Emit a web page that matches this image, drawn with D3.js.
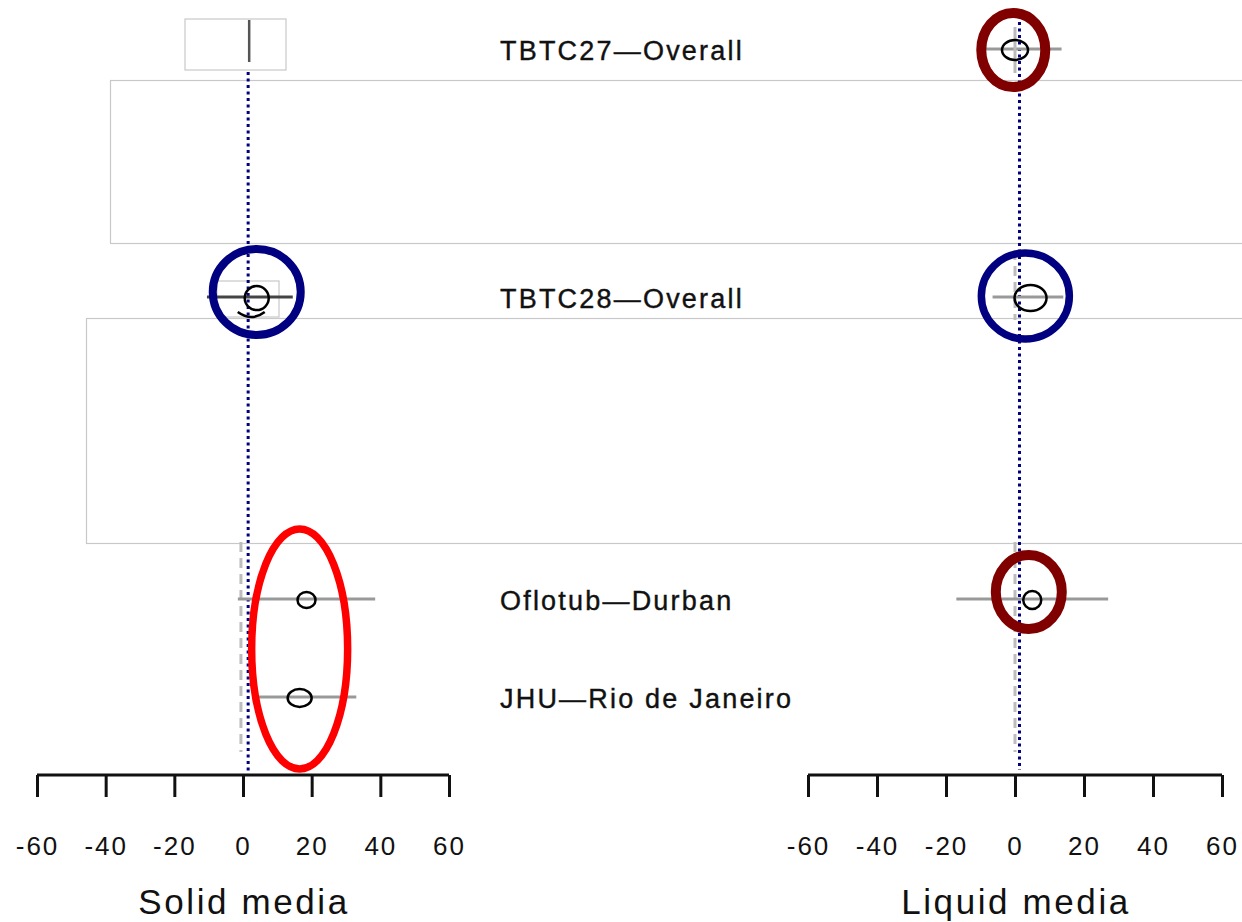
<!DOCTYPE html>
<html>
<head>
<meta charset="utf-8">
<script src="https://cdn.jsdelivr.net/npm/d3@7"></script>
<style>
  html, body { margin: 0; padding: 0; background: #fff; }
  svg { display: block; }
  text { font-family: "Liberation Sans", Arial, sans-serif; fill: #111; }
</style>
</head>
<body>
<svg id="chart" width="1242" height="922"></svg>
<script>
// studies, top to bottom
const studies = ['TBTC27\u2014Overall', 'TBTC28\u2014Overall', 'Oflotub\u2014Durban', 'JHU\u2014Rio de Janeiro'];
// row position (in row units, 0 = top row)
const rowPos = [0, 2.53, 5.61, 6.61];

// solid media: point estimate and confidence interval (null = not shown)
const solidEst = [1.8, 4, 18.5, 16.5];
const solidLo = [null, -10.5, -1.5, 4];
const solidHi = [null, 14.5, 38.5, 33];

// liquid media
const liquidEst = [0, 4.5, 5, null];
const liquidLo = [-8.5, -6.5, -17, null];
const liquidHi = [13.5, 14, 27, null];

// pooled estimates (dotted lines)
const solidPooled = 1.5;
const liquidPooled = 1.3;

const ticks = [-60, -40, -20, 0, 20, 40, 60];
const tickLabels = ['-60', '-40', '-20', '0', '20', '40', '60'];

const svg = d3.select('#chart');

const xSolid = d3.scaleLinear().domain([-60, 60]).range([37, 449]);
const xLiquid = d3.scaleLinear().domain([-60, 60]).range([808, 1222]);
const y = d3.scaleLinear().domain([0, 6.61]).range([50, 698]);

const axisY = 775;

// grey frame artefacts left behind in the figure
svg.append('rect').attr('x', 185).attr('y', 19).attr('width', 101).attr('height', 51)
  .attr('fill', 'none').attr('stroke', '#c8c8c8').attr('stroke-width', 1.2);
svg.append('rect').attr('x', 110.5).attr('y', 80.5).attr('width', 1200).attr('height', 163)
  .attr('fill', 'none').attr('stroke', '#c8c8c8').attr('stroke-width', 1.2);
svg.append('rect').attr('x', 86.5).attr('y', 318.5).attr('width', 1200).attr('height', 225)
  .attr('fill', 'none').attr('stroke', '#c8c8c8').attr('stroke-width', 1.2);
svg.append('rect').attr('x', 217).attr('y', 281).attr('width', 62).attr('height', 36)
  .attr('fill', 'none').attr('stroke', '#c8c8c8').attr('stroke-width', 1.2);

// null lines (grey dashed)
[[xSolid, -0.6], [xLiquid, 0]].forEach(([x, v]) => {
  svg.append('line')
    .attr('x1', x(v)).attr('x2', x(v))
    .attr('y1', 542).attr('y2', 752)
    .attr('stroke', '#bdbdbd').attr('stroke-width', 3)
    .attr('stroke-dasharray', '10,6');
});
svg.append('line')
  .attr('x1', xLiquid(0)).attr('x2', xLiquid(0))
  .attr('y1', 250).attr('y2', 320)
  .attr('stroke', '#bdbdbd').attr('stroke-width', 3)
  .attr('stroke-dasharray', '10,6');

// pooled estimate lines (navy dotted)
svg.append('line')
  .attr('x1', xSolid(solidPooled)).attr('x2', xSolid(solidPooled))
  .attr('y1', 72).attr('y2', axisY)
  .attr('stroke', '#000080').attr('stroke-width', 3).attr('stroke-dasharray', '3,3.5');
svg.append('line')
  .attr('x1', xLiquid(liquidPooled)).attr('x2', xLiquid(liquidPooled))
  .attr('y1', 22).attr('y2', axisY - 5)
  .attr('stroke', '#000080').attr('stroke-width', 3).attr('stroke-dasharray', '3,3.5');

// confidence intervals
function drawCIs(x, lo, hi, color) {
  svg.append('g').selectAll('line')
    .data(studies.map((s, i) => i).filter(i => lo[i] !== null))
    .join('line')
    .attr('x1', i => x(lo[i])).attr('x2', i => x(hi[i]))
    .attr('y1', i => y(rowPos[i]) - 1).attr('y2', i => y(rowPos[i]) - 1)
    .attr('stroke', i => color(i)).attr('stroke-width', 3);
}
drawCIs(xSolid, solidLo, solidHi, i => (i === 1 ? '#444' : '#999'));
drawCIs(xLiquid, liquidLo, liquidHi, () => '#999');

// TBTC27 solid: only a vertical mark
svg.append('line')
  .attr('x1', xSolid(solidEst[0])).attr('x2', xSolid(solidEst[0]))
  .attr('y1', 20).attr('y2', 62)
  .attr('stroke', '#555').attr('stroke-width', 2.5);
// TBTC27 liquid: vertical grey mark
svg.append('line')
  .attr('x1', xLiquid(liquidEst[0])).attr('x2', xLiquid(liquidEst[0]))
  .attr('y1', 27).attr('y2', 73)
  .attr('stroke', '#bbb').attr('stroke-width', 3);

// point estimate markers (small open ellipses)
const solidR = [null, [12, 12], [9, 8], [12, 9]];
const liquidR = [[13, 10], [16, 13], [9, 9], null];
function drawPoints(x, est, rr) {
  svg.append('g').selectAll('ellipse')
    .data(studies.map((s, i) => i).filter(i => est[i] !== null && rr[i]))
    .join('ellipse')
    .attr('cx', i => x(est[i])).attr('cy', i => y(rowPos[i]))
    .attr('rx', i => rr[i][0]).attr('ry', i => rr[i][1])
    .attr('fill', 'none').attr('stroke', '#000').attr('stroke-width', 2.5);
}
drawPoints(xSolid, solidEst, solidR);
drawPoints(xLiquid, liquidEst, liquidR);

// black arc under the TBTC28 solid marker
svg.append('path')
  .attr('d', `M${xSolid(solidEst[1]) - 19},${y(rowPos[1]) + 14} Q${xSolid(solidEst[1]) - 5},${y(rowPos[1]) + 24} ${xSolid(solidEst[1]) + 8},${y(rowPos[1]) + 14}`)
  .attr('fill', 'none').attr('stroke', '#000').attr('stroke-width', 2.5);

// highlight rings
const highlights = [
  {x: xSolid, v: 4, row: 1, rx: 44, ry: 43, color: '#000080', w: 8, dy: -6},
  {x: xLiquid, v: 3, row: 1, rx: 44, ry: 43, color: '#000080', w: 7.5, dy: -2},
  {x: xLiquid, v: -0.5, row: 0, rx: 32, ry: 37, color: '#800000', w: 10, dy: 0},
  {x: xLiquid, v: 4, row: 2, rx: 33, ry: 37, color: '#800000', w: 10, dy: -8},
  {x: xSolid, v: 16.5, row: 2.5, rx: 48, ry: 120, color: '#ff0000', w: 7.5, dy: 0}
];
svg.append('g').selectAll('ellipse')
  .data(highlights)
  .join('ellipse')
  .attr('cx', d => d.x(d.v))
  .attr('cy', d => (Number.isInteger(d.row) ? y(rowPos[d.row]) : (y(rowPos[2]) + y(rowPos[3])) / 2) + d.dy)
  .attr('rx', d => d.rx).attr('ry', d => d.ry)
  .attr('fill', 'none').attr('stroke', d => d.color).attr('stroke-width', d => d.w);

// study labels
svg.append('g').selectAll('text')
  .data(studies)
  .join('text')
  .attr('x', 500)
  .attr('y', (d, i) => y(rowPos[i]) + 10)
  .attr('font-size', 27)
  .attr('letter-spacing', 2.2)
  .attr('stroke', '#111').attr('stroke-width', 0.4)
  .text(d => d);

// axes
function drawAxis(x, title) {
  const g = svg.append('g').attr('transform', `translate(0,${axisY})`);
  g.call(d3.axisBottom(x).tickValues(ticks).tickSize(22).tickFormat((d, i) => tickLabels[i]).tickSizeOuter(0));
  g.select('.domain').attr('stroke', '#111').attr('stroke-width', 3).attr('d', `M${x(-60)},0H${x(60)}`);
  g.selectAll('.tick line').attr('stroke', '#111').attr('stroke-width', 3);
  g.selectAll('.tick text')
    .attr('y', 80).attr('dy', 0)
    .attr('font-size', 26).attr('letter-spacing', 2)
    .attr('font-family', '"Liberation Sans", Arial, sans-serif')
    .attr('fill', '#222');
  svg.append('text')
    .attr('x', x(0) + 1).attr('y', 914)
    .attr('text-anchor', 'middle')
    .attr('font-size', 35).attr('letter-spacing', 2.6)
    .text(title);
}
drawAxis(xSolid, 'Solid media');
drawAxis(xLiquid, 'Liquid media');
</script>
</body>
</html>
